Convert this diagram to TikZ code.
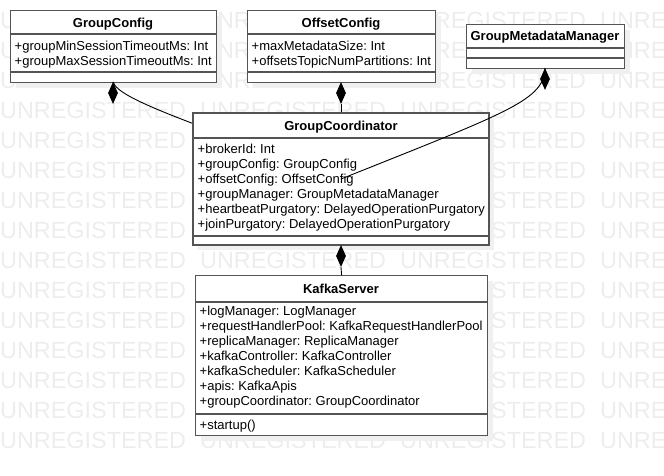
\documentclass[tikz,border=0pt]{standalone}
\usepackage{fontspec}
\setmainfont{Liberation Sans}
\frenchspacing
\usetikzlibrary{shapes.geometric,shadows}
\tikzset{
  umlbox/.style={draw=black!67, line width=1.2pt, fill=white, inner sep=0pt,
    anchor=north west,
    drop shadow={shadow xshift=5pt, shadow yshift=-5pt, fill=black!6, opacity=1}},
  divider/.style={draw=black!67, line width=1.2pt},
  head/.style={anchor=base, inner sep=0pt, font=\fontsize{13}{15}\selectfont\bfseries},
  attr/.style={anchor=base west, inner sep=0pt, font=\fontsize{13}{15}\selectfont},
  watermark/.style={anchor=base west, inner sep=0pt, text=black!7,
    font=\fontsize{23.4}{28}\selectfont},
  comp/.style={diamond, fill=black, minimum width=10pt, minimum height=22pt, inner sep=0pt},
  assoc/.style={draw=black, line width=0.9pt}
}
\begin{document}
\begin{tikzpicture}[x=1pt, y=-1pt]
    \useasboundingbox (0,0) rectangle (664,476);
    % background mark
    \begin{scope}
      \clip (0,0) rectangle (664,476);
      \foreach \r in {0,...,14}
        \foreach \c in {0,...,3}
          \node[watermark] (wm\r-\c) at (200*\c, 28.5+30*\r) {UNREGISTERED};
    \end{scope}
    % GroupConfig
    \node[umlbox, minimum width=206pt, minimum height=72pt] (cfg) at (10,10) {};
    \draw[divider] (cfg.west |- 0,34) -- (cfg.east |- 0,34);
    \draw[divider] (cfg.west |- 0,72) -- (cfg.east |- 0,72);
    \node[head] (cfgH) at (113,27.5) {GroupConfig};
    \node[attr] (cfgA1) at (14.5,50.5) {+groupMinSessionTimeoutMs: Int};
    \node[attr] (cfgA2) at (14.5,65.5) {+groupMaxSessionTimeoutMs: Int};
    % OffsetConfig
    \node[umlbox, minimum width=188pt, minimum height=72pt] (ocfg) at (247,10) {};
    \draw[divider] (ocfg.west |- 0,34) -- (ocfg.east |- 0,34);
    \draw[divider] (ocfg.west |- 0,72) -- (ocfg.east |- 0,72);
    \node[head] (ocfgH) at (341,27.5) {OffsetConfig};
    \node[attr] (ocfgA1) at (251.5,50.5) {+maxMetadataSize: Int};
    \node[attr] (ocfgA2) at (251.5,65.5) {+offsetsTopicNumPartitions: Int};
    % GroupMetadataManager
    \node[umlbox, minimum width=158pt, minimum height=44pt] (gmm) at (466,24) {};
    \draw[divider] (gmm.west |- 0,48) -- (gmm.east |- 0,48);
    \draw[divider] (gmm.west |- 0,58) -- (gmm.east |- 0,58);
    \node[head] (gmmH) at (545,41) {GroupMetadataManager};
    % composition ends
    \node[comp] (dCfg) at (113,93) {};
    \node[comp] (dOcfg) at (341,93) {};
    \node[comp] (dGmm) at (545,79) {};
    \coordinate (gcC) at (341,179);
    \draw[assoc] (dCfg.north) .. controls (118,100) and (200,125) .. (gcC);
    % GroupCoordinator
    \node[umlbox, anchor=center, minimum width=296pt, minimum height=132pt] (gc) at (gcC) {};
    \draw[divider] (gc.west |- 0,138) -- (gc.east |- 0,138);
    \draw[divider] (gc.west |- 0,236) -- (gc.east |- 0,236);
    \node[head] (gcH) at (341,130.5) {GroupCoordinator};
    \foreach \t [count=\i from 0] in {+brokerId: Int, +groupConfig: GroupConfig,
        +offsetConfig: OffsetConfig, +groupManager: GroupMetadataManager,
        +heartbeatPurgatory: DelayedOperationPurgatory,
        +joinPurgatory: DelayedOperationPurgatory}
      \node[attr] (gcA\i) at (197.5,153.3+15*\i) {\t};
    \draw[assoc] (dGmm.north) .. controls (544,100) and (511,111) .. (gc.center);
    \draw[assoc] (dOcfg.south) -- (gc.north);
    \node[comp] (dGc) at (341,256) {};
    % KafkaServer
    \node[umlbox, minimum width=292pt, minimum height=160pt] (ks) at (195,275) {};
    \draw[divider] (ks.west |- 0,302) -- (ks.east |- 0,302);
    \draw[divider] (ks.west |- 0,414) -- (ks.east |- 0,414);
    \node[head] (ksH) at (341,293) {KafkaServer};
    \foreach \t [count=\i from 0] in {+logManager: LogManager,
        +requestHandlerPool: KafkaRequestHandlerPool,
        +replicaManager: ReplicaManager, +kafkaController: KafkaController,
        +kafkaScheduler: KafkaScheduler, +apis: KafkaApis,
        +groupCoordinator: GroupCoordinator}
      \node[attr] (ksA\i) at (199.5,315.5+15*\i) {\t};
    \node[attr] (ksM0) at (199.5,429.5) {+startup()};
    \draw[assoc] (dGc.south) -- (ks.north);
  \end{tikzpicture}
\end{document}
